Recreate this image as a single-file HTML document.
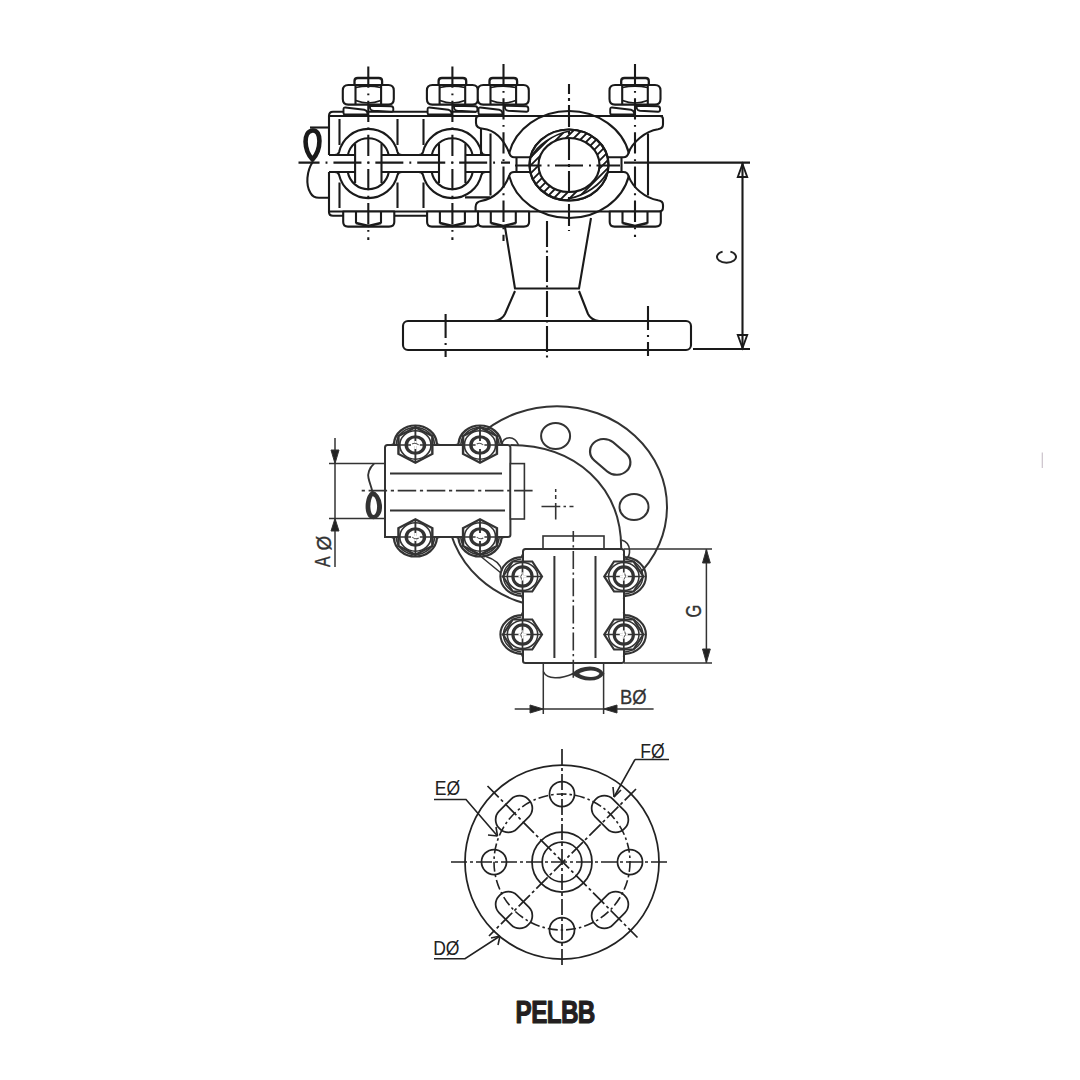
<!DOCTYPE html>
<html><head><meta charset="utf-8">
<style>
html,body{margin:0;padding:0;background:#fff;width:1080px;height:1080px;overflow:hidden}
svg{display:block}
text{font-family:"Liberation Sans",sans-serif;stroke-linejoin:round}
</style></head><body>
<svg style="opacity:0.999" width="1080" height="1080" viewBox="0 0 1080 1080">
<defs>
  <!-- top nut, centered at x=0 -->
  <g id="tnut" fill="#fff" stroke="#1a1a1a" stroke-width="2.1" stroke-linejoin="round">
    <path d="M-13.8 85.5 V81 Q-13.8 78 -10.5 78 H10.5 Q13.8 78 13.8 81 V85.5" stroke-width="2.3"/>
    <path d="M-20 85 H20 Q25.5 85 25.5 90.5 V99 Q25.5 104.6 20 104.6 H-20 Q-25.5 104.6 -25.5 99 V90.5 Q-25.5 85 -20 85 Z"/>
    <path d="M-12.8 85.5 V104 M12.8 85.5 V104" fill="none"/>
    <path d="M-12.5 87.5 Q0 84.8 12.5 87.5 M-12.5 100.5 Q0 105.5 12.5 100.5" fill="none" stroke-width="1.7"/>
    <path d="M-23 107.5 L-4 109.8 Q-1.5 110.3 -1 112.5 L-0.5 114.5 H-23.5 Q-24.8 114.5 -24.8 112.5 V109.5 Q-24.8 107.4 -23 107.5 Z" stroke-width="1.9"/>
    <path d="M1.5 105.8 L23 106.3 Q25 106.6 25 108.6 V110 Q25 111.8 23 111.7 L5 110.8 Q2.5 110.5 1.8 108.5 Z" stroke-width="1.9"/>
  </g>
  <!-- bottom nut -->
  <g id="bnut" fill="#fff" stroke="#1a1a1a" stroke-width="2.1" stroke-linejoin="round">
    <path d="M-25.3 211.5 V222 Q-25.3 226.6 -20.5 226.6 H20.5 Q25.8 226.6 25.8 222 V211.5 Z"/>
    <path d="M-12.5 212 V223.5 M12.5 212 V223.5" fill="none"/>
    <path d="M-12.5 223 L0 226 L12.5 223" fill="none" stroke-width="2.4"/>
  </g>
  <!-- ring stadium pieces at x=0 -->
  <g id="ring" fill="none" stroke="#1a1a1a" stroke-width="2.1">
    <path d="M-33.5 155 Q-30 155 -29.2 152 A30 30 0 0 1 29.2 152 Q30 155 33.5 155"/>
    <path d="M-33.5 172 Q-30 172 -29.2 175 A30 30 0 0 0 29.2 175 Q30 172 33.5 172"/>
    <path d="M-20.4 155 A20.8 20.8 0 0 1 20.4 155 M-20.5 172 A20.8 20.8 0 0 0 20.5 172"/>
  </g>

  <g id="mbolt" fill="none" stroke="#333" stroke-width="2.1">
    <path d="M-22.5 0 Q-20 0 -19.54 -1.5 A19.6 19.6 0 0 1 19.54 -1.5 Q20 0 22.5 0"/>
    <path d="M-17.37 -1 A17.4 17.4 0 0 1 17.37 -1" stroke-width="1.5"/>
    <path d="M0 -17.8 L15.4 -8.9 V8.9 L0 17.8 L-15.4 8.9 V-8.9 Z" fill="#fff" stroke-width="2.2"/>
    <circle r="14.2" stroke-width="1.5"/>
    <circle r="8.3" stroke-width="3.1" fill="#fff"/>
    <path d="M0 -20 V18 M-16 0 H16" stroke-width="1.7"/>
    <path d="M-4 0 H4 M0 -4 V4" stroke="#fff" stroke-width="2"/>
    <path d="M-3 -1 Q0 -3 3 0" stroke-width="1" stroke="#555"/>
  </g>
<clipPath id="pipering"><path d="M529.5 165 A39.5 35.5 0 1 0 608.5 165 A39.5 35.5 0 1 0 529.5 165 Z M538.5 165 A30.5 27 0 1 1 599.5 165 A30.5 27 0 1 1 538.5 165 Z" clip-rule="evenodd"/></clipPath>

  <g id="mboltR" fill="none" stroke="#333" stroke-width="2.1">
    <path d="M-22 0 Q-19.8 0 -19.35 -1.5 A19.4 22.2 0 0 1 19.35 -1.5 Q19.8 0 22 0"/>
    <path d="M-17.5 -1 A17.6 20.2 0 0 1 17.5 -1" stroke-width="1.5"/>
    <path d="M0 -19.5 L15 -9.75 V9.75 L0 19.5 L-15 9.75 V-9.75 Z" fill="#fff" stroke-width="2.2"/>
    <ellipse rx="14" ry="15.2" stroke-width="1.5"/>
    <circle r="9.6" stroke-width="3.1" fill="#fff"/>
    <path d="M0 -21 V19.5 M-16 0 H16" stroke-width="1.7"/>
    <path d="M-4 0 H4 M0 -4 V4" stroke="#fff" stroke-width="2"/>
    <path d="M-3 -1 Q0 -3 3 0" stroke-width="1" stroke="#555"/>
  </g>
</defs>

<!-- ================= TOP VIEW ================= -->
<g fill="none" stroke="#1a1a1a" stroke-width="2.1" stroke-linecap="butt" stroke-linejoin="round">
  <!-- block outline -->
  <path d="M333 111.8 H476 M329 155 V116 Q329 111.8 333 111.8 M329 116 H663"/>
  <path d="M329 172 V212 Q329 215.8 333 215.8 H476 M329 211.5 H476"/>
  <!-- cable on left -->
  <path d="M310 127.5 H329"/>
  <path d="M313 161.5 C306.5 171, 305.5 185, 310.5 193 Q313 197.8 319 197.8 H329" stroke-width="2.1"/>
  <path d="M312.5 159.5 C303.5 150, 303 131.5, 312.5 130.5 C322 129.5, 321.5 150, 312.5 159.5 Z" stroke-width="4.6"/>
  <!-- interior verticals -->
  <path d="M339.5 119 V145 M397.5 119 V145 M423.5 119 V145 M481 129 V154.5 M339.5 182.5 V208 M397.5 182.5 V208 M423.5 182.5 V208"/>
  <path d="M490.5 133.5 V195.5 M465 197.4 H490"/>
</g>
<use href="#ring" x="368.3"/>
<use href="#ring" x="452.2"/>
<!-- rod band -->
<g fill="none" stroke="#1a1a1a" stroke-width="2.1">
  <path d="M329 155 H355.1 M381.5 155 H439 M465.4 155 H490 M329 172 H355.1 M381.5 172 H439 M465.4 172 H490"/>
  <path d="M355.1 143.6 V183 M381.5 143.6 V183 M439 143.6 V183 M465.4 143.6 V183"/>
</g>

<!-- main clamp -->
<g fill="#fff" stroke="#1a1a1a" stroke-width="2.1" stroke-linejoin="round">
  <path d="M479 116 H660 Q663 116 663 119.5 V124.5 Q663 128.5 658 129.3 C645 131 632 143 628.5 153 Q627.5 157.2 623.5 157.2 H514 Q510.5 157.2 509.5 153.5 C504 140 495 130 483 128.8 Q476 128 476 123 V119.5 Q476 116 479 116 Z"/>
  <path d="M479 211.5 H659 Q663 211.5 663 207.5 V205 Q663 201 658 200.3 C645 198 633 188 628.5 176 Q627.5 172 623.5 172 H514 Q510.5 172 509.5 175 C504 190 493 199 481 201 Q475.6 202 475.6 207 V211.5 Z"/>
</g>
<g fill="none" stroke="#1a1a1a" stroke-width="2.1">
  <path d="M509 153.5 A61.5 54.5 0 0 1 629 153.5"/>
  <path d="M509 175.5 A61.5 54.5 0 0 0 629 175.5"/>
  <path d="M516.5 158 V171.5 M621.5 158 V171.5"/>
  <path d="M648 133.5 V195.5"/>
</g>
<!-- pipe -->
<g stroke="#1a1a1a" stroke-width="2.1">
  <ellipse cx="569" cy="165" rx="39.5" ry="35.5" fill="#fff"/>
  <path clip-path="url(#pipering)" stroke-width="1.9" d="M430.0 210 L520.0 120 M438.0 210 L528.0 120 M446.0 210 L536.0 120 M454.0 210 L544.0 120 M462.0 210 L552.0 120 M470.0 210 L560.0 120 M478.0 210 L568.0 120 M486.0 210 L576.0 120 M494.0 210 L584.0 120 M502.0 210 L592.0 120 M510.0 210 L600.0 120 M518.0 210 L608.0 120 M526.0 210 L616.0 120 M534.0 210 L624.0 120 M542.0 210 L632.0 120 M550.0 210 L640.0 120 M558.0 210 L648.0 120 M566.0 210 L656.0 120 M574.0 210 L664.0 120 M582.0 210 L672.0 120 M590.0 210 L680.0 120 M598.0 210 L688.0 120 M606.0 210 L696.0 120 M614.0 210 L704.0 120 M622.0 210 L712.0 120"/>
  <path fill="#fff" stroke="none" d="M531.3 157 C537 146, 552 134.5, 570 131 L569 129.5 A39.5 35.5 0 0 0 530.5 157 Z M606.8 173 C601 184, 586 195.5, 568 199 L569 200.5 A39.5 35.5 0 0 0 607.5 173 Z"/>
  <path fill="none" d="M531.3 157 C537 146, 552 134.5, 570 131 M606.8 173 C601 184, 586 195.5, 568 199" stroke-width="1.7"/>
  <ellipse cx="569" cy="165" rx="39.5" ry="35.5" fill="none"/>
  <ellipse cx="569" cy="165" rx="30.5" ry="27" fill="#fff"/>
</g>

<!-- nuts -->
<use href="#tnut" x="368.3"/><use href="#tnut" x="452.4"/><use href="#tnut" x="503.3"/><use href="#tnut" x="635"/>
<use href="#bnut" x="368.5"/><use href="#bnut" x="452.4"/><use href="#bnut" x="503.3"/><use href="#bnut" x="635"/>

<!-- pedestal -->
<g fill="none" stroke="#1a1a1a" stroke-width="2.1" stroke-linejoin="round">
  <path d="M505 227 L515 288.5 H579 L591 218"/>
  <path d="M515 291 L505 314 Q502 320 494 321 M579 291 L588 314 Q591 320 599 321"/>
  <rect x="403" y="321" width="288" height="29" rx="5"/>
</g>

<!-- centerlines -->
<g fill="none" stroke="#1a1a1a" stroke-width="2.1">
  <path d="M368.3 66.5 V240 M452.4 66.5 V240 M503.5 64 V241 M635 64 V237" stroke-dasharray="21.3 5.6 1.8 5.45"/>
  <path d="M569 84 V231" stroke-dasharray="22 4 3 4" stroke-dashoffset="12"/>
  <path d="M547 221 V360" stroke-dasharray="26 3.5 2 3.5"/>
  <path d="M445.6 314 V357 M648 306 V356" stroke-dasharray="24 5 2 5"/>
  <path d="M298.5 162.6 H510" stroke-dasharray="28 6 1.9 6" stroke-dashoffset="6.95"/>
  <path d="M515 165.5 H620" stroke-dasharray="28 6 2 5.5" stroke-dashoffset="1.5"/>
</g>

<path d="M722.6 251.6 A9.5 5.8 0 1 0 730.4 251.6" fill="none" stroke="#222" stroke-width="2"/>
<!-- dimension C -->
<g fill="none" stroke="#1a1a1a" stroke-width="2.1">
  <path d="M742.5 164 L737.8 177 H747.2 Z M742.5 348 L737.8 335 H747.2 Z" fill="#fff" stroke-width="1.9"/>
  <path d="M624 162.6 H750 M693 349 H750 M742.5 163 V349"/>
</g>
<!-- ================= MIDDLE VIEW ================= -->
<g fill="none" stroke="#333" stroke-width="2">
  <!-- flange outer ellipse -->
  <ellipse cx="557" cy="507" rx="110" ry="100.8"/>
  <!-- holes -->
  <ellipse cx="555.6" cy="436" rx="14.5" ry="13"/>
  <ellipse cx="634" cy="507" rx="14.5" ry="13"/>
  <g transform="translate(610.2 456.9) scale(1.1 1) rotate(43)"><rect x="-20.5" y="-12.5" width="41" height="25" rx="12.5"/></g>
  <!-- elbow inner arc -->
  <path d="M510.4 444.9 C575.8 444.9 621.2 486.6 621.2 548"/>
  <!-- cross marker -->
  <path d="M541.5 506.5 H560.3 M555.7 503 V519.5" stroke-width="1.6"/>
  <path d="M563.5 506.5 H566 M569.5 506.5 H573.5 M555.7 489 V492 M555.7 495 V499" stroke-width="1.5"/>
  <!-- strap -->
  <path d="M481.5 557 L501 573 M486 556.5 Q500 561 502 571" stroke-width="1.5"/>
</g>
<!-- left block -->
<g fill="#fff" stroke="#333" stroke-width="2">
  <path d="M385 537 V447.5 Q385 445 387.5 445 H508 Q510.4 445 510.4 447.5 V535 Q510.4 537 508 537 Z"/>
  <rect x="510.4" y="463.6" width="14" height="55.4" stroke-width="1.6"/>
</g>
<g fill="none" stroke="#333" stroke-width="2">
  <path d="M390 473.6 H502 M390 510.6 H505"/>
  <path d="M329 463.6 H385 M329 518.4 H385" stroke-width="1.5"/>
  <path d="M360 490.6 H533" stroke-width="1.7" stroke-dasharray="18.5 3.7 3.2 3.7" stroke-dashoffset="20.5"/>
  <path d="M374.1 463.6 C369 468, 367.5 474, 368.5 478 C369.5 483, 371.5 487, 372.2 491" stroke-width="1.9"/>
  <path d="M372.2 491.5 C365.5 496, 364.5 511, 369.5 517 C375 521, 382 515.5, 381.2 505 C380.5 497.5, 376.5 492.5, 372.2 491.5 Z" stroke-width="1.5" fill="#333"/>
  <path d="M372.8 496 C370 500, 369.5 510, 372 514 C374.5 517, 377.5 512, 377 505 C376.5 500, 375 497, 372.8 496 Z" stroke="none" fill="#fff"/>
  <!-- dimension A -->
  <path d="M335 438 V567" stroke-width="1.5"/>
  <path d="M335 463.6 L331 450 H339 Z M335 518.4 L331 531 H339 Z" fill="#222" stroke-width="1"/>
</g>
<text transform="translate(330 567) rotate(-90) scale(0.72 1)" font-size="22" fill="#333" stroke="#333" stroke-width="0.35">A</text>
<text transform="translate(330.5 550.5) rotate(-90) scale(0.95 1)" font-size="20" fill="#333" stroke="#333" stroke-width="0.35">Ø</text>
<!-- bottom block -->
<g fill="#fff" stroke="#333" stroke-width="2">
  <rect x="543" y="536" width="61" height="13" stroke-width="1.6"/>
  <path d="M523 661 V551.5 Q523 549 525.5 549 H621.5 Q624 549 624 551.5 V661 Q624 663 621.5 663 H525.5 Q523 663 523 661 Z"/>
</g>
<g fill="none" stroke="#333" stroke-width="2">
  <path d="M554.4 556 V658 M595.5 556 V658"/>
  <path d="M573.3 531 V681" stroke-width="1.6" stroke-dasharray="18 3.5 2.2 3.5" stroke-dashoffset="7.2"/>
  <path d="M543.3 663 V714 M603.6 663 V714" stroke-width="1.5"/>
  <path d="M543.3 671.5 C547 680, 561 679, 573 673.7" stroke-width="1.5"/>
  <path d="M573 673.7 C583 665.5, 598 665.5, 603.3 673.7 C598 681.5, 583 681.5, 573 673.7 Z" stroke-width="2" fill="#333"/>
  <path d="M579 673.7 C587 669.3, 596 669.3, 599.5 673.7 C596 678, 587 678, 579 673.7 Z" stroke="none" fill="#fff"/>
  <!-- dimension G -->
  <path d="M624 549 H712 M624 663 H712 M706.4 549 V663" stroke-width="1.5"/>
  <path d="M706.4 549.5 L702.5 563 H710.3 Z M706.4 662.5 L702.5 649 H710.3 Z" fill="#222" stroke-width="1"/>
  <!-- dimension B -->
  <path d="M514.7 709 H653.6" stroke-width="1.5"/>
  <path d="M543.3 709 L530 705 V713 Z M603.6 709 L617 705 V713 Z" fill="#222" stroke-width="1"/>
  <!-- tabs -->
  <path d="M501.5 445 Q503 437.8 509.5 437.8 Q515.5 437.8 518.5 445" stroke-width="1.6"/>
  <path d="M621.5 540 Q629 542 629.5 550 Q630 556 626 559" stroke-width="1.6"/>
</g>
<text transform="translate(700.8 611.2) rotate(-90) scale(0.75 1)" font-size="22" fill="#333" stroke="#333" stroke-width="0.35" text-anchor="middle">G</text>
<text transform="translate(620 703.8) scale(0.92 1)" font-size="20" fill="#333" stroke="#333" stroke-width="0.3">BØ</text>
<!-- bolts -->
<use href="#mbolt" transform="translate(415.4 445) scale(1.1 1)"/>
<use href="#mbolt" transform="translate(480 445) scale(1.1 1)"/>
<use href="#mbolt" transform="translate(415.4 537) scale(1.1 1) rotate(180)"/>
<use href="#mbolt" transform="translate(480 537) scale(1.1 1) rotate(180)"/>
<use href="#mboltR" transform="translate(522.5 576.5) rotate(-90)"/>
<use href="#mboltR" transform="translate(522.5 634.5) rotate(-90)"/>
<use href="#mboltR" transform="translate(623.8 576.5) rotate(90)"/>
<use href="#mboltR" transform="translate(623.8 634.5) rotate(90)"/>

<!-- ================= BOTTOM VIEW ================= -->
<g fill="none" stroke="#222" stroke-width="1.75">
  <circle cx="562" cy="862" r="97"/>
  <circle cx="562" cy="862" r="68" stroke-dasharray="10 3 2.5 3" stroke-width="1.6"/>
  <circle cx="562" cy="862" r="30"/>
  <circle cx="562" cy="862" r="19.8"/>
  <circle cx="562" cy="794" r="12.5"/>
  <circle cx="562" cy="930" r="12.5"/>
  <circle cx="494" cy="862" r="12.5"/>
  <circle cx="630" cy="862" r="12.5"/>
  <g transform="translate(514 814) rotate(-45)"><rect x="-20.5" y="-12.5" width="41" height="25" rx="12"/></g>
  <g transform="translate(610 814) rotate(45)"><rect x="-20.5" y="-12.5" width="41" height="25" rx="12"/></g>
  <g transform="translate(514 910) rotate(45)"><rect x="-20.5" y="-12.5" width="41" height="25" rx="12"/></g>
  <g transform="translate(610 910) rotate(-45)"><rect x="-20.5" y="-12.5" width="41" height="25" rx="12"/></g>
  <g stroke-dasharray="16 3 3 3" stroke-width="1.7">
    <path d="M451 862 H670 M562 749 V965"/>
    <path d="M487.5 786 L637.5 937.5 M636 789 L489 936"/>
  </g>
  <!-- leaders -->
  <path d="M635 759.5 H669 M635 759.5 L614 797" stroke-width="1.6"/>
  <path d="M434 799.5 H466 L497.5 836" stroke-width="1.6"/>
  <path d="M434 958.7 H465 L500 936" stroke-width="1.6"/>
  <path d="M614 797 L613 787 M614 797 L621 790" stroke-width="1.6"/>
  <path d="M497.5 836 L488 835 M497.5 836 L496 827" stroke-width="1.6"/>
  <path d="M500 936 L498 945 M500 936 L491 938" stroke-width="1.6"/>
</g>
<text transform="translate(640.3 757.7) scale(0.9 1)" font-size="19.5" fill="#222">FØ</text>
<text transform="translate(434.8 794.5) scale(0.9 1)" font-size="19.5" fill="#222">EØ</text>
<text transform="translate(433.2 955.2) scale(0.9 1)" font-size="19.5" fill="#222">DØ</text>

<!-- PELBB -->
<text transform="translate(515.6 1023) scale(0.81 1.04)" font-size="30" font-weight="bold" fill="#231f20" stroke="#231f20" stroke-width="1.1" stroke-linejoin="round" letter-spacing="-0.8">PELBB</text>
<rect x="1041.7" y="452.5" width="1.2" height="15.5" fill="#cbc3cb"/>
</svg>
</body></html>
